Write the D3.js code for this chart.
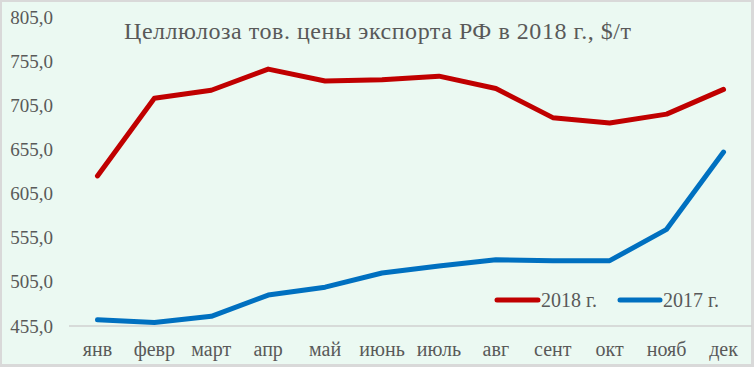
<!DOCTYPE html>
<html><head><meta charset="utf-8">
<script src="https://cdn.jsdelivr.net/npm/d3@7"></script>
<style>body{margin:0;background:#fff}svg{display:block}text{font-family:"Liberation Serif","DejaVu Serif",serif;fill:#595959}</style>
</head><body><svg id="c" width="754" height="367"></svg>
<script>
const months = ["янв","февр","март","апр","май","июнь","июль","авг","сент","окт","нояб","дек"];
const series2018 = [625,713,722,746,732.5,734,738,724,691,685,695,723];
const series2017 = [462,459,466,490,499,515,523,530,529,529,564.5,652];
const yTicks = [455,505,555,605,655,705,755,805];
const titleText = "Целлюлоза тов. цены экспорта РФ в 2018 г., $/т";
const legendNames = ["2018 г.","2017 г."];
const colors = ["#C00000","#0070C0"];

const svg = d3.select("#c");
svg.append("rect").attr("x",0).attr("y",0).attr("width",754).attr("height",367).attr("fill","#D9D9D9");
svg.append("rect").attr("x",2).attr("y",2).attr("width",749).attr("height",362).attr("fill","#EBF9F2");

const x = d3.scaleBand().domain(months).range([69,752]);
const y = d3.scaleLinear().domain([455,805]).range([326,17]);

// y tick labels
const yAxis = d3.axisLeft(y).tickValues(yTicks).tickSize(0).tickPadding(0)
  .tickFormat(d => d3.format(".1f")(d).replace(".",","));
const gy = svg.append("g").attr("transform","translate(53,0)").call(yAxis);
gy.select(".domain").remove();
gy.selectAll("text").attr("font-size",19).style("fill","#595959").attr("font-family",null);

// baseline
svg.append("line").attr("x1",69).attr("x2",752).attr("y1",y(455)).attr("y2",y(455))
  .attr("stroke","#D0D0D0").attr("stroke-width",1.5);

// x labels
const xAxis = d3.axisBottom(x).tickSize(0).tickPadding(0);
const gx = svg.append("g").attr("transform","translate(0,342)").call(xAxis);
gx.select(".domain").remove();
gx.selectAll("text").attr("font-size",20).style("fill","#595959").attr("font-family",null).attr("dy","0.71em");

const line = d3.line().x((d,i)=>x(months[i])+x.bandwidth()/2).y(d=>y(d));
[series2018, series2017].forEach((s,k)=>{
  svg.append("path").datum(s).attr("d",line).attr("fill","none")
    .attr("stroke",colors[k]).attr("stroke-width",5).attr("stroke-linecap","round").attr("stroke-linejoin","round");
});

// title
svg.append("text").attr("x",124).attr("y",39).attr("font-size",24)
  .attr("textLength",507).attr("lengthAdjust","spacing").text(titleText);

// legend
const leg = [{x1:497,x2:538,tx:541},{x1:620,x2:660,tx:663}];
leg.forEach((l,k)=>{
  svg.append("line").attr("x1",l.x1).attr("x2",l.x2).attr("y1",300).attr("y2",300)
    .attr("stroke",colors[k]).attr("stroke-width",5).attr("stroke-linecap","round");
  svg.append("text").attr("x",l.tx).attr("y",306.5).attr("font-size",20).text(legendNames[k]);
});
</script></body></html>
